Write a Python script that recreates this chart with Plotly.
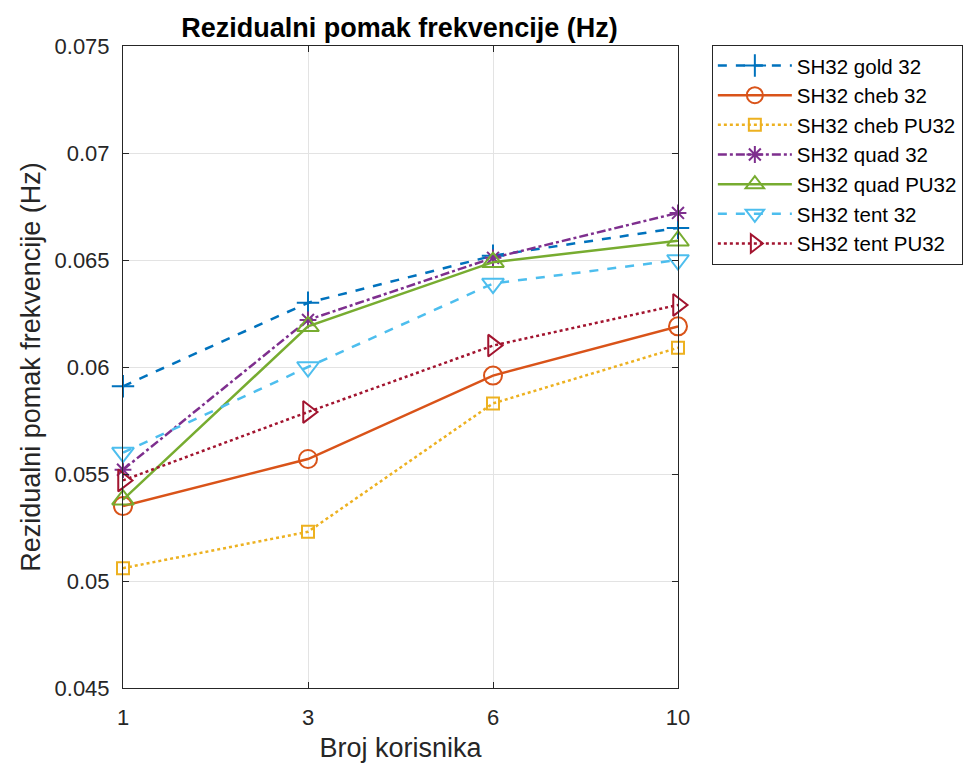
import plotly.graph_objects as go

# broj korisnika (x kategorije)
korisnici = ["1", "3", "6", "10"]

gold_32 = [0.0591, 0.0630, 0.0652, 0.0665]
cheb_32 = [0.0535, 0.0557, 0.0596, 0.0619]
cheb_pu32 = [0.0506, 0.0523, 0.0583, 0.0609]
quad_32 = [0.0552, 0.0622, 0.0651, 0.0672]
quad_pu32 = [0.0538, 0.0619, 0.0649, 0.0659]
tent_32 = [0.0560, 0.0600, 0.0639, 0.0650]
tent_pu32 = [0.0547, 0.0579, 0.0610, 0.0629]

y_ticks = [0.045, 0.05, 0.055, 0.06, 0.065, 0.07, 0.075]
y_tick_labels = ["0.045", "0.05", "0.055", "0.06", "0.065", "0.07", "0.075"]

serije = [
    ("SH32 gold 32", gold_32, "#0072BD", "dash", "cross-thin-open", 16),
    ("SH32 cheb 32", cheb_32, "#D95319", "solid", "circle-open", 18),
    ("SH32 cheb PU32", cheb_pu32, "#EDB120", "dot", "square-open", 12),
    ("SH32 quad 32", quad_32, "#7E2F8E", "dashdot", "asterisk-open", 14),
    ("SH32 quad PU32", quad_pu32, "#77AC30", "solid", "triangle-up-open", 19),
    ("SH32 tent 32", tent_32, "#4DBEEE", "dash", "triangle-down-open", 19),
    ("SH32 tent PU32", tent_pu32, "#A2142F", "dot", "triangle-right-open", 19),
]

x_idx = list(range(len(korisnici)))

fig = go.Figure()
for ime, vrijednosti, boja, crta, simbol, vel in serije:
    fig.add_trace(go.Scatter(
        x=x_idx, y=vrijednosti, name=ime, mode="lines+markers",
        line=dict(color=boja, dash=crta, width=2.5),
        marker=dict(symbol=simbol, size=vel, color=boja,
                    line=dict(color=boja, width=2)),
        cliponaxis=False,
    ))

font_fam = "Liberation Sans, Arial, sans-serif"
osi = dict(showline=True, mirror="ticks", linecolor="#262626", linewidth=1,
           ticks="inside", ticklen=6, tickcolor="#262626",
           showgrid=True, gridcolor="#e3e3e3", gridwidth=1, zeroline=False,
           tickfont=dict(size=22, color="#262626", family=font_fam))

fig.update_xaxes(range=[0, 3], tickvals=x_idx, ticktext=korisnici,
                 ticklabelstandoff=10,
                 title=dict(text="Broj korisnika", font=dict(size=27, color="#262626"), standoff=8),
                 **osi)
fig.update_yaxes(range=[0.045, 0.075], tickvals=y_ticks, ticktext=y_tick_labels,
                 ticklabelstandoff=8,
                 title=dict(text="Rezidualni pomak frekvencije (Hz)", font=dict(size=27, color="#262626"), standoff=6),
                 **osi)

fig.update_layout(
    width=974, height=767,
    margin=dict(l=115, r=304, t=38, b=87, autoexpand=False),
    paper_bgcolor="white", plot_bgcolor="white",
    font=dict(family=font_fam, color="#262626"),
    title=dict(text="<b>Rezidualni pomak frekvencije (Hz)</b>", x=0.402, xanchor="center",
               y=0.975, yanchor="middle", font=dict(size=27, color="black")),
    legend=dict(x=1.061, y=1.002, xanchor="left", yanchor="top",
                bordercolor="#262626", borderwidth=1, bgcolor="white",
                font=dict(size=20.5, color="black"), tracegroupgap=0,
                itemwidth=74),
    showlegend=True,
)

fig.write_html("out.html")
